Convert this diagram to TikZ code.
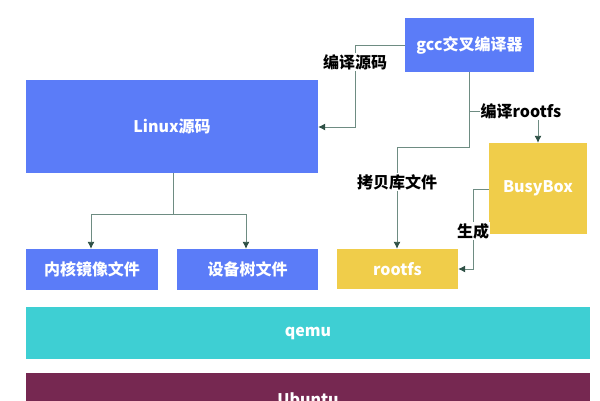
\documentclass[tikz,border=0pt]{standalone}
\usepackage{fontspec}
\setmainfont{Noto Sans CJK SC}
\usepackage{xcolor}
\usepackage{tikz}
\usetikzlibrary{arrows.meta,positioning,calc}

\definecolor{boxblue}{HTML}{5B7CF8}
\definecolor{boxyellow}{HTML}{F0CD4A}
\definecolor{boxteal}{HTML}{3ECFD3}
\definecolor{boxplum}{HTML}{762851}
\definecolor{linkc}{HTML}{6E8C82}
\definecolor{tipc}{HTML}{2E5045}

\begin{document}
\begin{tikzpicture}[
  x=1pt, y=-1pt,
  font=\fontsize{16}{18}\selectfont\bfseries,
  block/.style={rectangle, draw=none, text=white, inner sep=0pt, align=center},
  blue/.style={block, fill=boxblue},
  yellow/.style={block, fill=boxyellow},
  lbl/.style={fill=white, text=black, inner sep=1pt},
  link/.style={draw=linkc, line width=0.9pt},
  arrow/.style={link, -{Latex[length=7pt, width=7pt, color=tipc]}}
]
  \clip (0,0) rectangle (600,400);
  \fill[white] (0,0) rectangle (600,400);

  % boxes
  \node[blue, minimum width=129pt, minimum height=54pt] (gcc) at (469.5,45) {gcc交叉编译器};
  \node[blue, minimum width=292pt, minimum height=93pt] (linux) at (172,126.5) {Linux源码};
  \node[blue, minimum width=132pt, minimum height=41pt] (kernel) at (92,269.5) {内核镜像文件};
  \node[blue, minimum width=141pt, minimum height=41pt] (dtb) at (247.5,269.5) {设备树文件};
  \node[yellow, minimum width=121pt, minimum height=40pt] (rootfs) at (397.5,269) {rootfs};
  \node[yellow, minimum width=98pt, minimum height=91pt] (busybox) at (538,188.5) {BusyBox};
  \node[block, fill=boxteal, minimum width=564pt, minimum height=52pt] (qemu) at (308,333) {qemu};
  \node[block, fill=boxplum, minimum width=564pt, minimum height=52pt] (ubuntu) at (308,399) {Ubuntu};

  % connectors
  \coordinate (srcturn) at (355,127);
  \draw[arrow] (gcc.west) -| (srcturn) -- (linux.east |- srcturn);

  \coordinate (libturn) at (397,147);
  \draw[link] (gcc.south) -- (gcc.south |- libturn) -- (libturn);
  \draw[arrow] (libturn) -- (rootfs.north -| libturn);

  \coordinate (genturn) at (473,189);
  \draw[arrow] (busybox.west |- genturn) -- (genturn) |- (rootfs.east |- 0,269);

  \coordinate (splitc) at (173,214);
  \draw[link] (linux.south -| splitc) -- (splitc);
  \draw[arrow] (splitc) -| (kernel.north -| 91,0);
  \draw[arrow] (splitc) -| (dtb.north -| 246,0);

  % labels
  \node[lbl] (srclbl) at (355,62) {编译源码};
  \node[lbl] (liblbl) at (397,182) {拷贝库文件};
  \node[lbl] (genlbl) at (473,231) {生成};
  \node[lbl, fill=none] (fslbl) at (521,111) {编译rootfs};
  \draw[link] (gcc.south |- fslbl) -- (fslbl.west);
  \draw[arrow] (fslbl.south -| busybox.north) -- (busybox.north);
\end{tikzpicture}
\end{document}
